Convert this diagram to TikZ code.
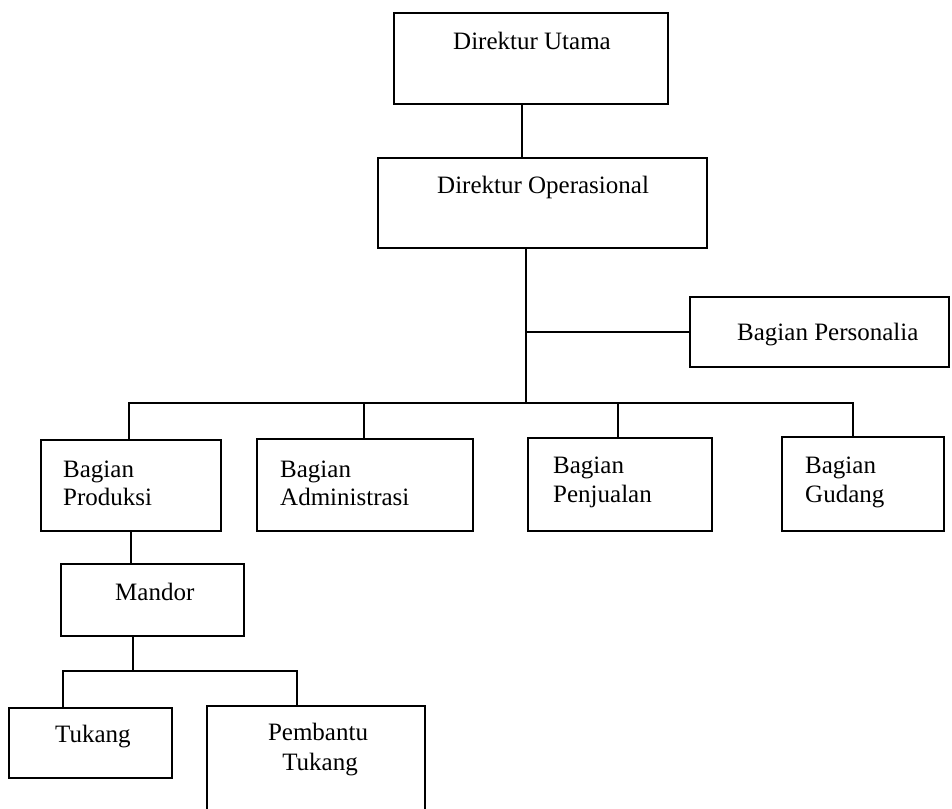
\documentclass[tikz,border=0pt]{standalone}
\usepackage{fontspec}
\setmainfont{Liberation Serif}
\begin{document}
\begin{tikzpicture}[x=1pt,y=-1pt,
  box/.style={draw, line width=1.5pt, rectangle, inner sep=0pt},
  lbl/.style={inner sep=0pt, font=\fontsize{25}{29}\selectfont},
  link/.style={line width=1.5pt}]
\useasboundingbox (0,0) rectangle (952,808);
% boxes
\node[box, minimum width=274pt, minimum height=91pt] (utama) at (531,58.5) {};
\node[box, minimum width=329pt, minimum height=90pt] (oper) at (542.5,203) {};
\node[box, minimum width=259pt, minimum height=70pt] (pers) at (819.5,332) {};
\node[box, minimum width=180pt, minimum height=91pt] (prod) at (131,485.5) {};
\node[box, minimum width=216pt, minimum height=92pt] (admin) at (365,485) {};
\node[box, minimum width=184pt, minimum height=93pt] (penj) at (620,484.5) {};
\node[box, minimum width=162pt, minimum height=94pt] (gudang) at (863,484) {};
\node[box, minimum width=183pt, minimum height=72pt] (mandor) at (152.5,600) {};
\node[box, minimum width=163pt, minimum height=70pt] (tukang) at (90.5,743) {};
\node[box, minimum width=218pt, minimum height=104pt] (pemb) at (316,758) {};
% texts
\node[lbl, anchor=base west] (tutama) at (453,49) {Direktur Utama};
\node[lbl, anchor=base west] (toper) at (437,193) {Direktur Operasional};
\node[lbl, anchor=base west] (tpers) at (737,340) {Bagian Personalia};
\node[lbl, anchor=base west] (tprod1) at (63,477) {Bagian};
\node[lbl, anchor=base west] (tprod2) at (63,505) {Produksi};
\node[lbl, anchor=base west] (tadmin1) at (280,477) {Bagian};
\node[lbl, anchor=base west] (tadmin2) at (280,505) {Administrasi};
\node[lbl, anchor=base west] (tpenj1) at (553,473) {Bagian};
\node[lbl, anchor=base west] (tpenj2) at (553,502) {Penjualan};
\node[lbl, anchor=base west] (tgud1) at (805,473) {Bagian};
\node[lbl, anchor=base west] (tgud2) at (805,502) {Gudang};
\node[lbl, anchor=base west] (tmandor) at (115,600) {Mandor};
\node[lbl, anchor=base west] (ttukang) at (55,742) {Tukang};
\node[lbl, anchor=base] (tpemb1) at (318,740) {Pembantu};
\node[lbl, anchor=base] (tpemb2) at (320,770) {Tukang};
% junction coordinates
\coordinate (c1) at (522,0);
\coordinate (bus) at (526,403);
\coordinate (wbus) at (133,671);
% connectors
\draw[link] (utama.south -| c1) -- (oper.north -| c1);
\draw[link] (oper.south -| bus) -- (bus);
\draw[link] (bus |- pers.west) -- (pers.west);
\draw[link] ([xshift=-2pt]prod.north) |- (bus);
\draw[link] ([xshift=-10pt]gudang.north) |- (bus);
\draw[link] ([xshift=-1pt]admin.north) -- ([xshift=-1pt]admin.north |- bus);
\draw[link] ([xshift=-2pt]penj.north) -- ([xshift=-2pt]penj.north |- bus);
\draw[link] (prod.south) -- (prod.south |- mandor.north);
\draw[link] (mandor.south -| wbus) -- (wbus);
\draw[link] ([xshift=-27.5pt]tukang.north) |- (wbus) -| ([xshift=-19pt]pemb.north);
\end{tikzpicture}
\end{document}
